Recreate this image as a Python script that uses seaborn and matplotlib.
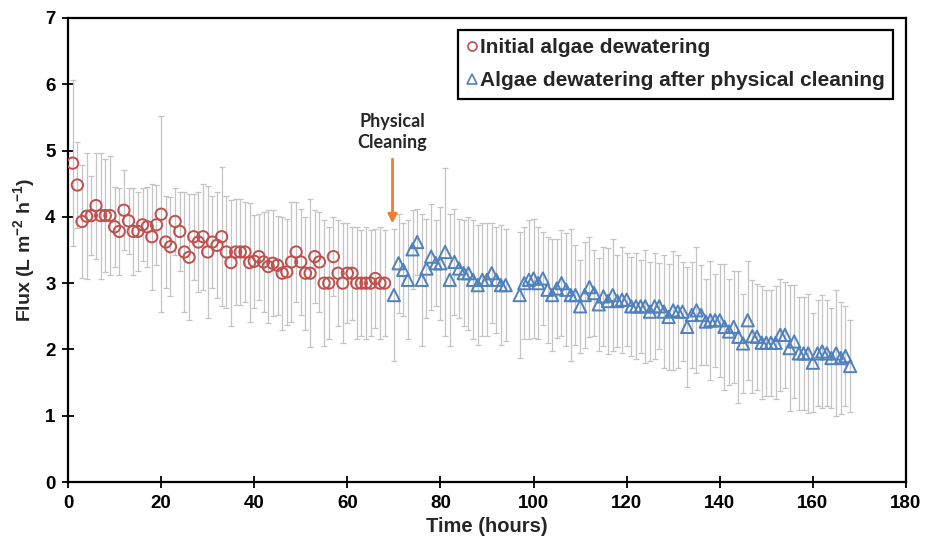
import numpy as np
import pandas as pd
import matplotlib
matplotlib.use("Agg")
import matplotlib.pyplot as plt
from matplotlib.lines import Line2D
import seaborn as sns

# Initial dewatering run (hours 1-68)
initial_time = list(range(1, 69))
initial_flux = [
    4.81, 4.48, 3.93, 4.01, 4.02, 4.17, 4.02, 4.02, 4.02, 3.85,
    3.78, 4.10, 3.94, 3.78, 3.78, 3.88, 3.85, 3.70, 3.88, 4.04,
    3.62, 3.55, 3.93, 3.78, 3.47, 3.39, 3.70, 3.62, 3.70, 3.47,
    3.62, 3.57, 3.70, 3.47, 3.31, 3.47, 3.47, 3.47, 3.31, 3.33,
    3.40, 3.32, 3.25, 3.30, 3.27, 3.15, 3.17, 3.32, 3.47, 3.32,
    3.15, 3.15, 3.40, 3.32, 3.00, 3.00, 3.40, 3.15, 3.00, 3.15,
    3.15, 3.00, 3.00, 3.00, 3.00, 3.07, 3.00, 3.00,
]
initial_err = [
    1.25, 0.65, 0.85, 0.95, 0.60, 0.80, 0.95, 0.85, 0.90, 0.60,
    0.65, 0.60, 0.50, 0.65, 0.60, 0.55, 0.60, 0.80, 0.60, 1.48,
    0.70, 0.75, 0.50, 0.60, 0.90, 0.95, 0.65, 0.75, 0.80, 1.00,
    0.70, 0.80, 1.05, 0.85, 0.95, 0.80, 0.80, 0.75, 0.90, 0.70,
    0.65, 0.75, 0.85, 0.80, 0.75, 0.85, 0.80, 0.90, 0.75, 0.80,
    0.85, 1.12, 0.70, 0.75, 0.95, 0.85, 0.60, 0.80, 0.90, 0.75,
    0.70, 0.85, 0.80, 0.85, 0.80, 0.75, 0.85, 0.80,
]

# Run after physical cleaning (hours 70-94 and 97-168)
cleaned_time = list(range(70, 95)) + list(range(97, 169))
cleaned_flux = [
    2.82, 3.30, 3.20, 3.05, 3.51, 3.62, 3.05, 3.22, 3.40, 3.30,
    3.30, 3.47, 3.05, 3.32, 3.22, 3.15, 3.15, 3.05, 2.97, 3.05,
    3.05, 3.15, 3.05, 2.97, 2.97,
    2.82, 3.00, 3.05, 3.07, 3.00, 3.07, 2.90, 2.82, 2.92, 3.00,
    2.90, 2.82, 2.82, 2.65, 2.82, 2.94, 2.85, 2.68, 2.80, 2.73,
    2.82, 2.73, 2.75, 2.75, 2.65, 2.65, 2.65, 2.65, 2.57, 2.65,
    2.65, 2.57, 2.49, 2.59, 2.57, 2.57, 2.34, 2.52, 2.59, 2.52,
    2.42, 2.44, 2.44, 2.44, 2.34, 2.27, 2.34, 2.19, 2.09, 2.44,
    2.20, 2.19, 2.10, 2.10, 2.10, 2.10, 2.22, 2.22, 2.02, 2.12,
    1.94, 1.94, 1.94, 1.80, 1.94, 1.97, 1.94, 1.87, 1.94, 1.87,
    1.90, 1.75,
]
cleaned_err = [
    1.00, 0.75, 0.70, 0.90, 0.60, 0.50, 1.00, 0.75, 0.80, 0.65,
    0.85, 1.27, 1.00, 0.80, 0.75, 0.80, 0.85, 0.90, 0.90, 0.85,
    0.85, 0.75, 0.80, 0.90, 0.85,
    0.95, 0.85, 0.90, 0.90, 0.85, 0.70, 0.80, 0.85, 0.75, 0.80,
    0.85, 1.00, 0.75, 0.70, 0.80, 0.75, 0.65, 0.70, 0.75, 0.80,
    0.85, 0.70, 0.80, 0.70, 0.75, 0.80, 0.70, 0.85, 0.75, 0.80,
    0.65, 0.85, 0.80, 0.90, 0.85, 0.75, 0.90, 0.80, 0.95, 0.75,
    0.65, 0.90, 0.70, 0.85, 0.95, 0.80, 0.85, 1.00, 0.75, 0.90,
    0.85, 0.80, 0.85, 0.80, 0.80, 0.85, 0.85, 0.80, 0.95, 0.85,
    0.85, 0.85, 0.90, 0.75, 0.80, 0.85, 0.80, 0.75, 0.95, 0.85,
    0.75, 0.70,
]

labels = ["Initial algae dewatering", "Algae dewatering after physical cleaning"]
x_ticks = list(range(0, 181, 20))
y_ticks = list(range(0, 8))

red = "#C0504D"
blue = "#4F81BD"
err_grey = "#C4C4C4"

initial = pd.DataFrame({"time": initial_time, "flux": initial_flux, "err": initial_err})
cleaned = pd.DataFrame({"time": cleaned_time, "flux": cleaned_flux, "err": cleaned_err})

sns.set_theme(style="white")
plt.rcParams["font.family"] = ["Liberation Sans", "DejaVu Sans"]
plt.rcParams["mathtext.fontset"] = "custom"
plt.rcParams["mathtext.rm"] = "Liberation Sans:bold"
plt.rcParams["mathtext.bf"] = "Liberation Sans:bold"
plt.rcParams["mathtext.default"] = "bf"

fig = plt.figure(figsize=(9.27, 5.48), dpi=100)
ax = fig.add_axes([0.0734, 0.1204, 0.9039, 0.8468])

for d in (initial, cleaned):
    ax.errorbar(d["time"], d["flux"], yerr=d["err"], fmt="none",
                ecolor=err_grey, elinewidth=0.9, capsize=2.2, capthick=0.9,
                zorder=1)

sns.scatterplot(data=initial, x="time", y="flux", marker="o", s=66,
                facecolors="none", edgecolor=red, linewidth=1.4, ax=ax,
                zorder=3)
sns.scatterplot(data=cleaned, x="time", y="flux", marker="^", s=78,
                facecolors="none", edgecolor=blue, linewidth=1.4, ax=ax,
                zorder=3)

ax.set_xlim(0, 180)
ax.set_ylim(0, 7)
ax.set_xticks(x_ticks)
ax.set_yticks(y_ticks)
ax.tick_params(direction="inout", length=8, width=1.3, colors="black",
               labelsize=13.5, pad=5, bottom=True, left=True)
for lab in ax.get_xticklabels() + ax.get_yticklabels():
    lab.set_fontweight("bold")
for sp in ax.spines.values():
    sp.set_visible(True)
    sp.set_color("black")
    sp.set_linewidth(1.6)

ax.set_xlabel("Time (hours)", fontsize=14.5, fontweight="bold", labelpad=4)
ax.set_ylabel(r"Flux (L m$^{-2}$ h$^{-1}$)", fontsize=14, fontweight="bold",
              labelpad=6)

# Marker for the cleaning step
ax.annotate("", xy=(69.7, 3.9), xytext=(69.7, 4.87),
            arrowprops=dict(arrowstyle="-|>", color="#ED7D31", lw=2,
                            mutation_scale=13, shrinkA=0, shrinkB=0))
ax.text(69.7, 5.28, "Physical\nCleaning", ha="center", va="center",
        fontsize=13, fontweight="bold", family=["Lato", "DejaVu Sans"],
        color="#262626", linespacing=1.35)

handles = [
    Line2D([], [], marker="o", ls="none", markersize=6.5, markerfacecolor="none",
           markeredgecolor=red, markeredgewidth=1.2),
    Line2D([], [], marker="^", ls="none", markersize=6.5, markerfacecolor="none",
           markeredgecolor=blue, markeredgewidth=1.2),
]
leg = ax.legend(handles, labels, loc="upper right",
                bbox_to_anchor=(0.985, 0.975), frameon=True, fancybox=False,
                edgecolor="black", framealpha=1, handlelength=0.5,
                handletextpad=0.15, borderpad=0.4, labelspacing=0.7,
                borderaxespad=0, prop={"weight": "bold", "size": 15})
leg.get_frame().set_linewidth(1.6)

fig.savefig("out.png", dpi=100)
